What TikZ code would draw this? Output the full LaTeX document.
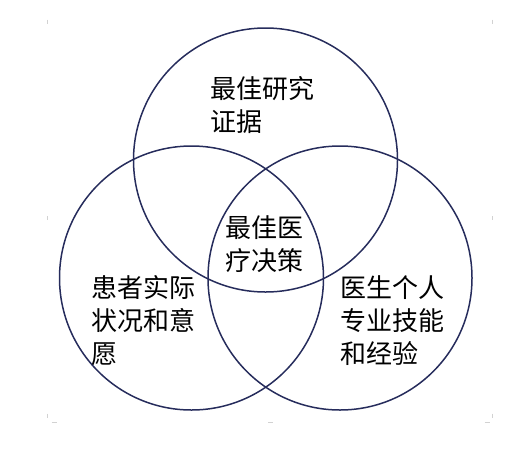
\documentclass[tikz,border=0pt]{standalone}
\usepackage{fontspec}
\newfontfamily\cjk{Noto Sans CJK SC}
\definecolor{ringblue}{RGB}{38,44,92}

\begin{document}
\begin{tikzpicture}[x=1pt,y=-1pt]
    \useasboundingbox (0,0) rectangle (524,453);
    \tikzset{
        ring/.style={draw=ringblue, line width=1.5pt},
        label/.style={font=\cjk\fontsize{26}{33}\selectfont, align=left, anchor=west, inner sep=0pt},
        tick/.style={draw=gray!35, line width=0.8pt}
    }
    % The three circles
    \foreach \n/\x/\y in {evidence/265.5/160, patient/191.5/278, doctor/340/278} {
        \coordinate (\n) at (\x,\y);
        \draw[ring] (\n) circle (132);
    }
    % Labels
    \node[label] (evidencetext) at (210,105) {最佳研究\\证据};
    \node[label] (decision) at (225,244) {最佳医\\疗决策};
    \node[label] (patienttext) at (91,321) {患者实际\\状况和意\\愿};
    \node[label] (doctortext) at (340,321) {医生个人\\专业技能\\和经验};
    % Faint frame handles
    \foreach \x/\y in {47.5/21.5, 492.5/21.5, 47.5/218, 492.5/218, 47.5/415.5, 492.5/415.5} {
        \draw[tick] (\x,\y-2) -- (\x,\y+2);
    }
    \foreach \x in {54, 270.5, 487} {
        \draw[tick] (\x-2.5,422.7) -- (\x+2.5,422.7);
    }
\end{tikzpicture}
\end{document}
